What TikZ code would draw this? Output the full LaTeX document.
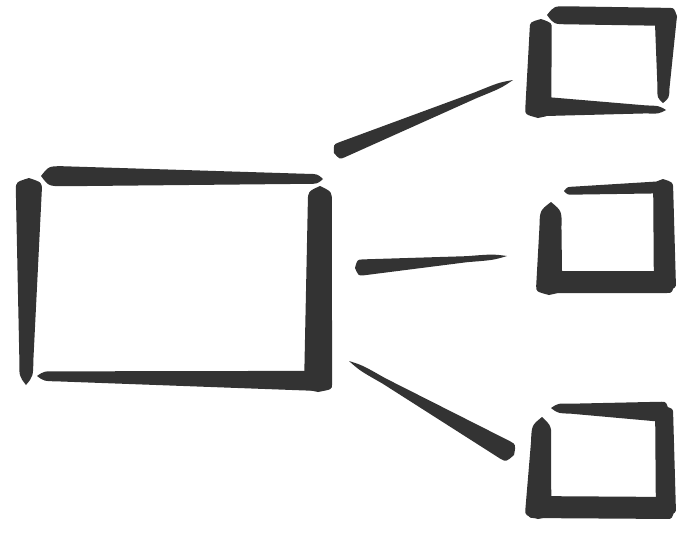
\documentclass[tikz,border=0pt]{standalone}
\usetikzlibrary{calc}
\definecolor{inkc}{HTML}{333333}
\tikzset{brushstroke/.style={fill=inkc,draw=none}}
% #1 tip A, #2 tip B, #3 half width near A, #4 half width near B,
% #5 taper length at A, #6 taper length at B
\newcommand\brush[6]{%
  \fill[brushstroke] (#1) .. controls ($(#1)!{0.35*#5}!(#2)!#3!90:(#2)$) .. ($(#1)!#5!(#2)!#3!90:(#2)$)
    -- ($(#2)!#6!(#1)!#4!-90:(#1)$) .. controls ($(#2)!{0.35*#6}!(#1)!#4!-90:(#1)$) .. (#2)
    .. controls ($(#2)!{0.35*#6}!(#1)!#4!90:(#1)$) .. ($(#2)!#6!(#1)!#4!90:(#1)$)
    -- ($(#1)!#5!(#2)!#3!-90:(#2)$) .. controls ($(#1)!{0.35*#5}!(#2)!#3!-90:(#2)$) .. (#1) -- cycle;}
\begin{document}
\begin{tikzpicture}[x=1pt,y=-1pt]
\fill[white] (0,0) rectangle (682,547);
\useasboundingbox (0,0) rectangle (682,547);
% large box
\coordinate (LtA) at (41,176);  \coordinate (LtB) at (323,179);
\coordinate (LlA) at (29,178);  \coordinate (LlB) at (26,385);
\coordinate (LrA) at (320,186); \coordinate (LrB) at (318,392);
\coordinate (LbA) at (37,376);  \coordinate (LbB) at (324,381);
\brush{LtA}{LtB}{10pt}{5pt}{22pt}{16pt}
\brush{LlA}{LlB}{13pt}{7pt}{12pt}{25pt}
\brush{LrA}{LrB}{12pt}{14pt}{16pt}{8pt}
\brush{LbA}{LbB}{5pt}{10pt}{20pt}{8pt}
% top small box
\coordinate (TtA) at (547,15);  \coordinate (TtB) at (677,17);
\coordinate (TrA) at (666,10);  \coordinate (TrB) at (663,103);
\coordinate (TlA) at (541,19);  \coordinate (TlB) at (538,118);
\coordinate (TbA) at (529,106); \coordinate (TbB) at (666,110);
\brush{TtA}{TtB}{9pt}{9pt}{20pt}{8pt}
\brush{TrA}{TrB}{11pt}{6pt}{8pt}{15pt}
\brush{TlA}{TlB}{11pt}{13pt}{10pt}{9pt}
\brush{TbA}{TbB}{10pt}{4pt}{8pt}{20pt}
% middle small box
\coordinate (MtA) at (564,191); \coordinate (MtB) at (669,187);
\coordinate (MrA) at (663,179); \coordinate (MrB) at (665,291);
\coordinate (MlA) at (551,202); \coordinate (MlB) at (549,295);
\coordinate (MbA) at (537,282); \coordinate (MbB) at (675,282);
\brush{MtA}{MtB}{4pt}{6pt}{10pt}{10pt}
\brush{MrA}{MrB}{10pt}{11pt}{10pt}{8pt}
\brush{MlA}{MlB}{11pt}{13pt}{25pt}{9pt}
\brush{MbA}{MbB}{11pt}{11pt}{8pt}{8pt}
% bottom small box
\coordinate (BtA) at (551,408); \coordinate (BtB) at (669,412);
\coordinate (BrA) at (664,406); \coordinate (BrB) at (666,516);
\coordinate (BlA) at (542,417); \coordinate (BlB) at (538,519);
\coordinate (BbA) at (526,507); \coordinate (BbB) at (675,508);
\brush{BtA}{BtB}{5pt}{10pt}{20pt}{8pt}
\brush{BrA}{BrB}{9pt}{10pt}{8pt}{8pt}
\brush{BlA}{BlB}{10pt}{13pt}{25pt}{9pt}
\brush{BbA}{BbB}{11pt}{11pt}{8pt}{8pt}
% connectors
\coordinate (C1A) at (334,153); \coordinate (C1B) at (513,80);
\coordinate (C2A) at (355,268); \coordinate (C2B) at (507,256);
\coordinate (C3A) at (349,361); \coordinate (C3B) at (514,455);
\brush{C1A}{C1B}{8pt}{3pt}{8pt}{40pt}
\brush{C2A}{C2B}{8pt}{3pt}{8pt}{40pt}
\brush{C3A}{C3B}{3pt}{10pt}{40pt}{10pt}
\end{tikzpicture}
\end{document}
